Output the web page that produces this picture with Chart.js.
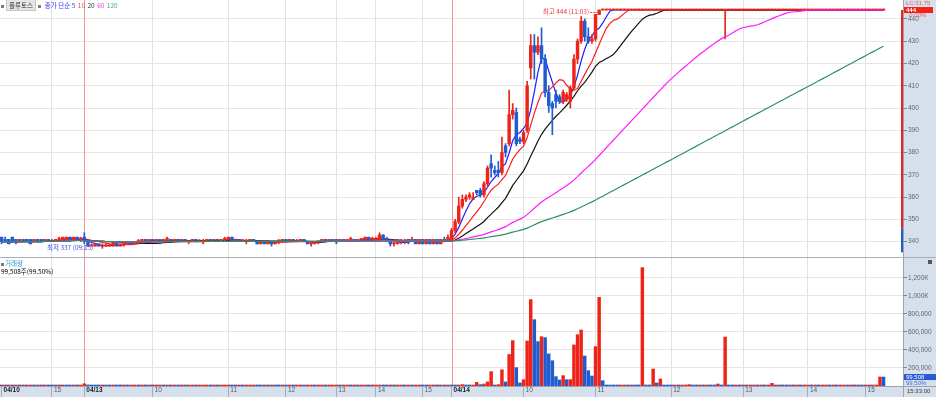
<!DOCTYPE html>
<html>
<head>
<meta charset="utf-8">
<title>플루토스</title>
<script src="https://cdn.jsdelivr.net/npm/chart.js@4.4.1/dist/chart.umd.min.js"></script>
<style>
  body { margin: 0; background: #fff; }
  #wrap { position: relative; width: 936px; height: 397px; overflow: hidden; }
  canvas { position: absolute; left: 0; }
  #priceChart { top: 0; }
  #volChart { top: 257px; }
  .txt { position: absolute; font-family: 'Noto Sans CJK KR', sans-serif; font-size: 6.5px; line-height: 8px; white-space: nowrap; }
  .sq { display: inline-block; width: 3px; height: 3px; background: #7a7a7a; vertical-align: middle; margin-right: 1px; }
  .nm { background: #e6e6e6; border: 1px solid #c6c6c6; color: #333; padding: 0 2px; }
  #legendTop span + span { margin-left: 1px; }
</style>
</head>
<body>
<div id="wrap">
  <canvas id="priceChart" width="936" height="257"></canvas>
  <canvas id="volChart" width="936" height="140"></canvas>
  <div class="txt" id="legendTop" style="left:1px;top:1px"></div>
  <div class="txt" id="legendVol" style="left:1px;top:259px"></div>
</div>
<script>
// 3 minute candles, 04/10 afternoon -> 04/14 close
const stockName = '플루토스';

const open = [
  342,341,341,342,341,340,341,341,341,340, 341,341,340,341,340,340,341,341,341,342,
  341,342,341,342,340,338,338,339,338,338, 338,338,340,338,339,339,340,339,340,340,
  341,340,341,340,341,340,341,341,340,341, 340,341,340,340,341,340,340,340,341,340,
  341,340,341,341,342,340,341,340,340,340, 341,340,339,340,339,340,339,340,340,341,
  340,341,340,340,341,340,339,339,340,340, 341,340,341,341,340,341,340,341,341,340,
  341,341,342,341,341,340,343,341,340,339, 339,340,340,341,340,341,339,341,339,341,
  339,341,339,341,340,
  341,345,349,356,359,360,359,363,363,361, 366,375,372,372,371,383,384,397,398,386,
  385,390,418,428,425,428,422,407,402,406, 405,403,404,403,409,422,430,439,432,430,
  431,442,
  444,444,444,444,444,444,444,444,444,444, 444,444,444,444,444,444,444,444,444,444,
  444,444,444,444,444,444,444,444,444,444, 444,444,444,444,444,444,444,444,444,444,
  444,444,444,444,444,444,444,444,444,444, 444,444,444,444,444,444,444,444,444,444,
  444,444,444,444,444,444,444,444,444,444, 444,444,444,444,444,444,444,444,444
];
const high = [
  342,342,341,342,341,341,341,341,341,341, 341,341,341,341,341,341,342,342,342,342,
  342,342,342,344,340,339,339,339,339,339, 339,340,340,339,340,340,340,340,341,341,
  341,341,341,341,341,341,342,341,341,341, 341,341,340,341,341,341,341,341,341,341,
  341,341,342,342,342,341,341,341,341,341, 341,340,340,340,340,340,340,341,341,341,
  341,341,341,341,341,340,340,340,340,341, 341,341,341,341,341,341,341,342,341,341,
  341,342,342,342,342,344,343,342,341,340, 341,341,341,341,342,341,341,341,341,341,
  341,341,341,342,343,
  346,350,360,361,361,362,362,363,364,367, 374,379,374,376,387,384,408,402,400,387,
  390,412,433,433,432,436,424,410,403,408, 406,408,407,410,424,431,441,440,436,433,
  442,444,
  444,444,444,444,444,444,444,444,444,444, 444,444,444,444,444,444,444,444,444,444,
  444,444,444,444,444,444,444,444,444,444, 444,444,444,444,444,444,444,444,444,444,
  444,444,444,444,444,444,444,444,444,444, 444,444,444,444,444,444,444,444,444,444,
  444,444,444,444,444,444,444,444,444,444, 444,444,444,444,444,444,444,444,444
];
const low = [
  339,340,339,340,339,340,340,340,339,340, 340,340,340,340,340,340,340,341,341,340,
  341,341,340,339,338,338,338,338,337,338, 338,338,338,338,338,339,339,339,339,340,
  340,340,340,340,339,340,340,340,340,340, 340,340,339,340,340,340,339,340,340,340,
  340,340,340,341,340,340,340,340,339,340, 340,339,339,339,339,338,339,339,340,340,
  340,340,340,340,340,339,338,339,339,340, 340,340,340,339,340,340,340,340,340,340,
  340,341,341,340,340,340,341,340,338,338, 339,339,339,339,340,339,339,339,339,339,
  339,339,339,340,340,
  340,344,348,355,358,359,359,361,360,360, 365,369,370,369,370,378,383,395,383,384,
  384,389,413,413,424,420,405,398,388,400, 402,402,403,400,408,420,429,430,429,429,
  430,442,
  444,444,444,444,444,444,444,444,444,444, 444,444,444,444,444,444,444,444,444,444,
  444,444,444,444,444,444,444,444,444,444, 444,444,444,444,431,444,444,444,444,444,
  444,444,444,444,444,444,444,444,444,444, 444,444,444,444,444,444,444,444,444,444,
  444,444,444,444,444,444,444,444,444,444, 444,444,444,444,444,444,444,444,444
];
const close = [
  340,340,339,340,340,341,340,340,339,341, 340,340,341,340,340,341,341,342,342,341,
  342,341,341,340,338,338,339,338,338,338, 338,340,338,339,339,340,339,340,340,341,
  340,341,340,341,340,341,341,340,341,340, 341,340,340,341,340,340,340,341,340,341,
  340,341,341,342,340,341,340,340,340,341, 340,339,340,339,340,339,340,340,341,340,
  341,340,340,341,340,339,339,340,340,341, 340,341,340,340,341,340,341,341,340,341,
  341,342,341,341,341,343,341,340,339,339, 340,340,340,340,341,339,341,339,341,339,
  341,339,341,340,342,
  345,349,356,359,360,361,360,362,361,366, 373,373,371,371,380,380,397,399,384,385,
  389,410,428,425,428,422,407,401,400,403, 403,407,406,409,422,430,439,432,430,431,
  442,444,
  444,444,444,444,444,444,444,444,444,444, 444,444,444,444,444,444,444,444,444,444,
  444,444,444,444,444,444,444,444,444,444, 444,444,444,444,444,444,444,444,444,444,
  444,444,444,444,444,444,444,444,444,444, 444,444,444,444,444,444,444,444,444,444,
  444,444,444,444,444,444,444,444,444,444, 444,444,444,444,444,444,444,444,444
];
const volume = [
  6000,3000,4000,2000,3000,2000,5000,2000,3000,2000, 4000,2000,3000,2000,1000,3000,2000,6000,4000,2000,
  3000,2000,9000,25000,12000,8000,5000,4000,6000,3000, 2000,11000,4000,2000,3000,2000,2000,3000,2000,9000,
  2000,3000,2000,2000,3000,2000,4000,2000,2000,1000, 2000,1000,2000,2000,1000,2000,2000,3000,1000,2000,
  1000,2000,7000,9000,3000,2000,2000,1000,2000,2000, 3000,2000,1000,2000,1000,4000,2000,1000,2000,1000,
  2000,1000,1000,2000,1000,2000,3000,1000,1000,2000, 1000,1000,2000,2000,1000,1000,2000,1000,2000,1000,
  2000,3000,2000,2000,3000,9000,4000,3000,5000,3000, 4000,5000,2000,3000,2000,3000,4000,3000,2000,3000,
  5000,3000,6000,5000,10000,
  6000,3000,7000,15000,5000,3000,5000,40000,15000,22000, 45000,160000,5000,15000,180000,45000,350000,504000,204000,34000,
  70000,500000,960000,737000,493000,548000,537000,356000,281000,104000, 67000,115000,70000,71000,456000,570000,622000,333000,170000,111000,
  437000,985000,
  59000,8000,3000,2000,1000,3000,6000,2000,5000,3000, 2000,1315000,4000,3000,189000,33000,78000,4000,2000,1000,
  2000,1000,3000,6000,15000,2000,1000,6000,1000,6000, 2000,1000,22000,3000,544000,3000,2000,2000,1000,2000,
  1000,1000,2000,1000,2000,1000,2000,30000,2000,8000, 2000,1000,2000,1000,2000,1000,1000,2000,1000,2000,
  1000,1000,2000,1000,2000,1000,1000,2000,1000,2000, 1000,2000,1000,2000,1000,2000,3000,100008,99508
];

const maPeriods = [5, 10, 20, 60, 120];
const maColors = ['#1c1cff', '#ff1c1c', '#111111', '#ff1cff', '#2e9161'];
const legendColors = ['#3a3af2', '#f24a4a', '#333333', '#f03cf0', '#3fae7c'];
const maOrder = [10, 9, 8, 5, 4]; // 60 / 120 end up above the candles like in the HTS screen

// x axis: bar index where each hour / day starts
const tickIdx = [0, 14, 23, 42, 63, 79, 93, 104, 117, 125, 145, 165, 186, 206, 224, 240];
const tickLabels = ['04/10', '15', '04/13', '10', '11', '12', '13', '14', '15', '04/14', '10', '11', '12', '13', '14', '15'];
const priceTicks = [340, 350, 360, 370, 380, 390, 400, 410, 420, 430, 440];
const volTicks = [200000, 400000, 600000, 800000, 1000000, 1200000];
const hiTime = '11:03', loTime = '09:15', clockText = '15:33:00', topAxisNote = 'LC:31.75';
const axisBarUp = [346, 444], axisBarDown = [335.2, 346];

const UP = '#ee2418', DOWN = '#1f5ccf', DAYLINE = '#f29494';
const numFont = "'Liberation Sans Narrow', 'Liberation Sans', sans-serif";
const krFont = "'Noto Sans CJK KR', sans-serif";
const N = close.length;
const xMin = -0.42, xMax = 250.4;

const candleColor = close.map((c, i) => c >= open[i] ? UP : DOWN);
const volColor = volume.map((v, i) => (i === 0 || v >= volume[i - 1]) ? UP : DOWN); // vs previous bar

function sma(p) {
  return close.map((_, i) => {
    const s = Math.max(0, i - p + 1);
    let sum = 0;
    for (let j = s; j <= i; j++) sum += close[j];
    return sum / (i - s + 1);
  });
}

// label text for a tick value / tick index, '' when unknown
function labelOfValue(v) { const k = tickIdx.indexOf(v); return k < 0 ? '' : tickLabels[k]; }
function labelAt(i) { return tickLabels[i] || ''; }

function makeX(showLabels) {
  return {
    type: 'linear', min: xMin, max: xMax, offset: false,
    afterBuildTicks: s => { s.ticks = tickIdx.map(v => ({ value: v })); },
    afterFit: s => { s.height = showLabels ? 11 : 0; s.paddingLeft = 0; s.paddingRight = 0; },
    border: { display: false },
    grid: {
      offset: false, drawTicks: showLabels, tickLength: 11, tickColor: '#a3adb8',
      color: c => {
        const v = c.tick ? c.tick.value : -1;
        if (v <= 0 || labelOfValue(v).includes('/')) return 'rgba(0,0,0,0)'; // day lines drawn by dayLines
        return '#e2e2e2';
      }
    },
    ticks: {
      display: showLabels, autoSkip: false, maxRotation: 0, minRotation: 0,
      align: 'start', labelOffset: 2, padding: -11,
      callback: (v, i) => labelAt(i),
      font: c => ({ size: 6.5, family: numFont, weight: labelAt(c.index).includes('/') ? 'bold' : 'normal', lineHeight: 1.2 }),
      color: c => labelAt(c.index).includes('/') ? '#222' : '#5a5a5a'
    }
  };
}

// light blue axis strips
const panelBg = {
  id: 'panelBg',
  beforeDraw(chart) {
    const { ctx, chartArea: a, width, height } = chart;
    ctx.save();
    ctx.fillStyle = '#d6e0ed';
    ctx.fillRect(a.right, 0, width - a.right, height);
    if (height - a.bottom > 0) ctx.fillRect(0, a.bottom, width, height - a.bottom);
    ctx.strokeStyle = '#9aa5b1';
    ctx.lineWidth = 1;
    ctx.beginPath();
    ctx.moveTo(a.right + 0.5, 0); ctx.lineTo(a.right + 0.5, height);
    if (height - a.bottom > 0) { ctx.moveTo(0, a.bottom + 0.5); ctx.lineTo(width, a.bottom + 0.5); }
    ctx.stroke();
    ctx.restore();
  }
};

// red vertical line where a new trading day starts
const dayLines = {
  id: 'dayLines',
  beforeDatasetsDraw(chart) {
    const { ctx, chartArea: a, scales: { x } } = chart;
    ctx.save();
    ctx.strokeStyle = DAYLINE; ctx.lineWidth = 1;
    tickIdx.forEach((v, k) => {
      if (k === 0 || !tickLabels[k].includes('/')) return;
      const px = Math.round(x.getPixelForValue(v)) + 0.5;
      ctx.beginPath(); ctx.moveTo(px, a.top); ctx.lineTo(px, a.bottom); ctx.stroke();
    });
    ctx.restore();
  }
};

const priceMarks = {
  id: 'priceMarks',
  afterDraw(chart) {
    const { ctx, chartArea: a, scales: { x, y } } = chart;
    ctx.save();
    const yTop = y.getPixelForValue(axisBarUp[1]), yMid = y.getPixelForValue(axisBarUp[0]), yBot = y.getPixelForValue(axisBarDown[0]);
    ctx.fillStyle = UP; ctx.fillRect(a.right - 2, yTop, 2, yMid - yTop);
    ctx.fillStyle = DOWN; ctx.fillRect(a.right - 2, yMid, 2, yBot - yMid);

    // 최고 / 최저 labels
    const hiVal = Math.max(...high), hiIdx = high.indexOf(hiVal);
    const loVal = Math.min(...low), loIdx = low.indexOf(loVal);
    ctx.font = '6.5px ' + krFont;
    ctx.textAlign = 'right'; ctx.textBaseline = 'middle';
    let px = x.getPixelForValue(hiIdx), py = y.getPixelForValue(hiVal);
    ctx.fillStyle = '#f03c3c';
    ctx.fillText('최고 ' + hiVal + ' (' + hiTime + ')', px - 10, py + 2);
    ctx.strokeStyle = '#f03c3c'; ctx.lineWidth = 1; ctx.setLineDash([2, 1]);
    ctx.beginPath(); ctx.moveTo(px - 9, py + 2.5); ctx.lineTo(px - 2, py + 2.5); ctx.stroke();
    ctx.setLineDash([]);
    px = x.getPixelForValue(loIdx); py = y.getPixelForValue(loVal);
    ctx.fillStyle = '#3c50e6';
    ctx.fillText('최저 ' + loVal + ' (' + loTime + ')', px - 9, py - 1);

    // last price box on the axis
    const lastY = y.getPixelForValue(close[N - 1]);
    const chg = (close[N - 1] - close[N - 2]) / close[N - 2] * 100;
    ctx.textAlign = 'left';
    ctx.font = '6px ' + numFont;
    ctx.fillStyle = '#f05a5a';
    ctx.fillText(topAxisNote, a.right + 3, lastY - 7);
    ctx.fillStyle = UP;
    ctx.fillRect(a.right + 1, lastY - 3, 29, 6);
    ctx.fillStyle = '#fff';
    ctx.font = 'bold 6px ' + numFont;
    ctx.fillText(String(close[N - 1]), a.right + 3, lastY + 0.3);
    ctx.fillStyle = '#f05a5a';
    ctx.font = '6px ' + numFont;
    ctx.fillText('  ' + chg.toFixed(2) + '%', a.right + 3, lastY + 5.8);
    ctx.restore();
  }
};

const volMarks = {
  id: 'volMarks',
  afterDraw(chart) {
    const { ctx, chartArea: a, scales: { y }, width } = chart;
    ctx.save();
    ctx.fillStyle = '#a7b0ba'; ctx.fillRect(0, 0, width, 1);
    ctx.fillStyle = '#555'; ctx.fillRect(width - 8, 3, 4, 4);
    const vy = y.getPixelForValue(volume[N - 1]);
    const ratio = volume[N - 1] / volume[N - 2] * 100;
    ctx.fillStyle = '#2759d0';
    ctx.fillRect(a.right + 1, vy - 3, width - a.right - 1, 6);
    ctx.font = '6px ' + numFont; ctx.textAlign = 'left'; ctx.textBaseline = 'middle';
    ctx.fillStyle = '#fff';
    ctx.fillText(volume[N - 1].toLocaleString('en-US'), a.right + 3, vy + 0.3);
    ctx.fillStyle = '#4070e0';
    ctx.fillText(ratio.toFixed(2) + '%', a.right + 3, vy + 6);
    ctx.fillStyle = '#333';
    ctx.fillText(clockText, a.right + 4, a.bottom + 5.5);
    ctx.restore();
  }
};

const common = {
  responsive: false, animation: false, events: [],
  layout: { padding: 0 },
  plugins: { legend: { display: false }, tooltip: { enabled: false } }
};

new Chart(document.getElementById('priceChart'), {
  type: 'bar',
  data: {
    datasets: [
      ...maPeriods.map((p, j) => ({
        type: 'line', data: sma(p).map((v, i) => ({ x: i, y: v })),
        borderColor: maColors[j], borderWidth: 1.2, pointRadius: 0, order: maOrder[j]
      })),
      { data: close.map((c, i) => ({ x: i, y: [low[i], high[i]] })), backgroundColor: candleColor,
        barThickness: 1, minBarLength: 1, grouped: false, order: 7 },
      { data: close.map((c, i) => ({ x: i, y: [open[i], c] })), backgroundColor: candleColor,
        barThickness: 2.8, minBarLength: 1, grouped: false, order: 6 }
    ]
  },
  options: {
    ...common,
    scales: {
      x: makeX(false),
      y: {
        position: 'right', min: 333.1, max: 448.5,
        afterBuildTicks: s => { s.ticks = priceTicks.map(v => ({ value: v })); },
        afterFit: s => { s.width = 33; s.paddingTop = 0; s.paddingBottom = 0; },
        border: { display: false },
        grid: { color: '#e6e6e6', tickColor: '#7d8793', tickLength: 4 },
        ticks: { color: '#666', padding: 1, font: { size: 6.5, family: numFont } }
      }
    }
  },
  plugins: [panelBg, dayLines, priceMarks]
});

new Chart(document.getElementById('volChart'), {
  type: 'bar',
  data: {
    datasets: [{ data: volume.map((v, i) => ({ x: i, y: v })), backgroundColor: volColor,
      barThickness: 2.8, minBarLength: 1, grouped: false }]
  },
  options: {
    ...common,
    scales: {
      x: makeX(true),
      y: {
        position: 'right', min: 0, max: 1433000,
        afterBuildTicks: s => { s.ticks = volTicks.map(v => ({ value: v })); },
        afterFit: s => { s.width = 33; s.paddingTop = 0; s.paddingBottom = 0; },
        border: { display: false },
        grid: { color: '#e6e6e6', tickColor: '#7d8793', tickLength: 4 },
        ticks: {
          color: '#666', padding: 1, font: { size: 6.5, family: numFont },
          callback: v => v >= 1000000 ? (v / 1000).toLocaleString('en-US') + 'K' : v.toLocaleString('en-US')
        }
      }
    }
  },
  plugins: [panelBg, dayLines, volMarks]
});

// legends (html text)
document.getElementById('legendTop').innerHTML =
  '<span class="sq"></span><span class="nm">' + stockName + '</span> <span class="sq"></span> ' +
  maPeriods.map((p, j) => '<span style="color:' + legendColors[j] + '">' + (j === 0 ? '종가 단순 ' : '') + p + '</span>').join(' ');
document.getElementById('legendVol').innerHTML =
  '<span class="sq"></span><span style="color:#2a9ad4">거래량</span><br>' +
  volume[N - 1].toLocaleString('en-US') + '주(' + (volume[N - 1] / volume[N - 2] * 100).toFixed(2) + '%)';
</script>
</body>
</html>
